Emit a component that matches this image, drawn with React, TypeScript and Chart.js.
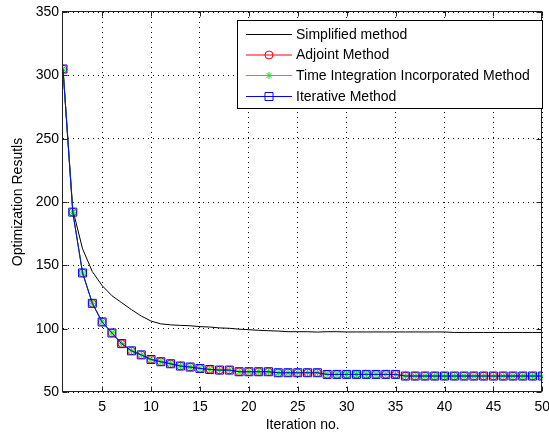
import React, { useEffect, useRef } from 'react';
import { Chart, registerables } from 'chart.js';

Chart.register(...registerables);

const iterations = [1, 2, 3, 4, 5, 6, 7, 8, 9, 10, 11, 12, 13, 14, 15, 16, 17, 18, 19, 20, 21, 22, 23, 24, 25, 26, 27, 28, 29, 30, 31, 32, 33, 34, 35, 36, 37, 38, 39, 40, 41, 42, 43, 44, 45, 46, 47, 48, 49, 50];

const simplified = [305, 194, 163, 145, 134, 126, 120.5, 115, 110, 106,
  103.8, 103, 102.6, 102.3, 101.6, 101.3, 100.6, 100.3, 99.6, 99.2,
  98.7, 98.4, 98.1, 97.6, 97.6, 97.6, 97.3, 97.6, 97.6, 97.4,
  97.4, 97.4, 97.4, 97.4, 97.4, 97.4, 97.4, 97.4, 97.4, 97.4,
  97, 97, 97, 97, 97, 97, 97, 97, 97, 97];

const adjoint = [305, 192, 144, 120, 105.3, 96.6, 88.2, 82.5, 79.3, 75.7,
  73.9, 72.3, 70.5, 69.7, 68.6, 67.8, 67.3, 67.3, 66, 66,
  66, 66, 65.2, 65.2, 65.2, 65.2, 65.2, 63.9, 63.9, 63.9,
  63.9, 63.9, 63.9, 63.9, 63.9, 62.6, 62.6, 62.6, 62.6, 62.6,
  62.6, 62.6, 62.6, 62.6, 62.6, 62.6, 62.6, 62.6, 62.6, 62.6];

const timeIntegration = [305, 192, 144, 120, 105.3, 96.6, 88.2, 82.5, 79.3, 75.7,
  73.9, 72.3, 70.5, 69.7, 68.6, 67.8, 67.3, 67.3, 66, 66,
  66, 66, 65.2, 65.2, 65.2, 65.2, 65.2, 63.9, 63.9, 63.9,
  63.9, 63.9, 63.9, 63.9, 63.9, 62.6, 62.6, 62.6, 62.6, 62.6,
  62.6, 62.6, 62.6, 62.6, 62.6, 62.6, 62.6, 62.6, 62.6, 62.6];

const iterative = [305, 192, 144, 120, 105.3, 96.6, 88.2, 82.5, 79.3, 75.7,
  73.9, 72.3, 70.5, 69.7, 68.6, 67.8, 67.3, 67.3, 66, 66,
  66, 66, 65.2, 65.2, 65.2, 65.2, 65.2, 63.9, 63.9, 63.9,
  63.9, 63.9, 63.9, 63.9, 63.9, 62.6, 62.6, 62.6, 62.6, 62.6,
  62.6, 62.6, 62.6, 62.6, 62.6, 62.6, 62.6, 62.6, 62.6, 62.6];

const xTicks = [5, 10, 15, 20, 25, 30, 35, 40, 45, 50];
const yTicks = [50, 100, 150, 200, 250, 300, 350];

const seriesNames = ['Simplified method', 'Adjoint Method', 'Time Integration Incorporated Method', 'Iterative Method'];
const seriesColors = ['#000000', '#ff0000', '#00ee00', '#0000ff'];

const FONT = '"Liberation Sans", Arial, Helvetica, sans-serif';

const toPoints = (vals: number[]) => vals.map((v, i) => ({ x: iterations[i], y: v }));

const drawMarker = (ctx: CanvasRenderingContext2D, kind: string, x: number, y: number, color: string) => {
  ctx.save();
  ctx.strokeStyle = color;
  ctx.lineWidth = 1;
  ctx.beginPath();
  if (kind === 'circle') {
    ctx.arc(x, y, 4, 0, Math.PI * 2);
  } else if (kind === 'star') {
    const r = 3.5;
    ctx.moveTo(x - r, y); ctx.lineTo(x + r, y);
    ctx.moveTo(x, y - r); ctx.lineTo(x, y + r);
    const d = r * 0.707;
    ctx.moveTo(x - d, y - d); ctx.lineTo(x + d, y + d);
    ctx.moveTo(x - d, y + d); ctx.lineTo(x + d, y - d);
  } else if (kind === 'rect') {
    ctx.rect(x - 4, y - 4, 8, 8);
  }
  ctx.stroke();
  ctx.restore();
};

const framePlugin = {
  id: 'matlabFrame',
  afterDraw(chart: any) {
    const { ctx, chartArea } = chart;
    const { left, right, top, bottom } = chartArea;
    const xs = chart.scales.x;
    const ys = chart.scales.y;
    ctx.save();
    ctx.strokeStyle = '#222';
    ctx.lineWidth = 1;
    const L = Math.round(left) - 0.5;
    const R = Math.round(right) - 0.5;
    const T = Math.round(top) - 0.5;
    const B = Math.round(bottom) - 0.5;
    ctx.strokeRect(L, T, R - L, B - T);
    ctx.beginPath();
    xTicks.forEach((v) => {
      const px = Math.round(xs.getPixelForValue(v)) + 0.5;
      ctx.moveTo(px, B); ctx.lineTo(px, B - 5);
      ctx.moveTo(px, T); ctx.lineTo(px, T + 5);
    });
    yTicks.forEach((v) => {
      const py = Math.round(ys.getPixelForValue(v)) + 0.5;
      ctx.moveTo(L, py); ctx.lineTo(L + 5, py);
      ctx.moveTo(R, py); ctx.lineTo(R - 5, py);
    });
    ctx.stroke();

    // legend box
    const bx = 237.5, by = 20.5, bw = 305, bh = 88;
    ctx.fillStyle = '#ffffff';
    ctx.fillRect(bx, by, bw, bh);
    ctx.strokeStyle = '#000';
    ctx.strokeRect(bx, by, bw, bh);
    const rowY = [34, 54.5, 75, 96];
    const markers = ['none', 'circle', 'star', 'rect'];
    ctx.font = `14px ${FONT}`;
    ctx.textBaseline = 'middle';
    ctx.textAlign = 'left';
    seriesNames.forEach((name, i) => {
      const y = rowY[i] + 0.5;
      ctx.strokeStyle = seriesColors[i];
      ctx.lineWidth = 1;
      ctx.beginPath();
      ctx.moveTo(246, y); ctx.lineTo(292, y);
      ctx.stroke();
      if (markers[i] !== 'none') drawMarker(ctx, markers[i], 269, y, seriesColors[i]);
      ctx.fillStyle = '#000';
      ctx.fillText(name, 296, rowY[i] + 1);
    });
    ctx.restore();
  },
};

export default function App() {
  const ref = useRef<HTMLCanvasElement | null>(null);
  useEffect(() => {
    if (!ref.current) return;
    const tickFont = { family: FONT, size: 14 };
    const chart = new Chart(ref.current, {
      type: 'line',
      data: {
        datasets: [
          {
            label: seriesNames[0], data: toPoints(simplified), borderColor: seriesColors[0],
            borderWidth: 1, pointRadius: 0, fill: false, order: 3,
          },
          {
            label: seriesNames[1], data: toPoints(adjoint), borderColor: seriesColors[1],
            borderWidth: 1, pointStyle: 'circle', pointRadius: 3.8, pointBorderColor: seriesColors[1],
            pointBackgroundColor: 'rgba(0,0,0,0)', pointBorderWidth: 1, fill: false, order: 2,
          },
          {
            label: seriesNames[2], data: toPoints(timeIntegration), borderColor: seriesColors[2],
            borderWidth: 1, pointStyle: 'star', pointRadius: 3.5, pointBorderColor: seriesColors[2],
            pointBackgroundColor: 'rgba(0,0,0,0)', pointBorderWidth: 1, fill: false, order: 1,
          },
          {
            label: seriesNames[3], data: toPoints(iterative), borderColor: seriesColors[3],
            borderWidth: 1, pointStyle: 'rect', pointRadius: 5.66, pointBorderColor: seriesColors[3],
            pointBackgroundColor: 'rgba(0,0,0,0)', pointBorderWidth: 1, fill: false, order: 0,
          },
        ],
      },
      options: {
        animation: false,
        responsive: false,
        layout: { padding: { top: 12, right: 4, left: 0, bottom: 0 } },
        plugins: { legend: { display: false }, tooltip: { enabled: false } },
        elements: { line: { tension: 0 } },
        scales: {
          x: {
            type: 'linear', min: 1, max: 50,
            afterBuildTicks: (s: any) => { s.ticks = xTicks.map((v) => ({ value: v })); },
            afterFit: (s: any) => { s.height = 44; s.paddingLeft = 0; s.paddingRight = 0; },
            grid: { color: '#000', drawTicks: false, lineWidth: 1 },
            border: { display: false, dash: [1, 4] },
            ticks: { padding: 7, color: '#000', font: tickFont, maxRotation: 0, autoSkip: false },
            title: { display: true, text: 'Iteration no.', color: '#000', font: tickFont, padding: { top: 0, bottom: 2 } },
          },
          y: {
            type: 'linear', min: 50, max: 350,
            afterBuildTicks: (s: any) => { s.ticks = yTicks.map((v) => ({ value: v })); },
            afterFit: (s: any) => { s.width = 63; s.paddingTop = 0; s.paddingBottom = 0; },
            grid: { color: '#000', drawTicks: false, lineWidth: 1 },
            border: { display: false, dash: [1, 4] },
            ticks: { padding: 4, color: '#000', font: tickFont, autoSkip: false },
            title: { display: true, text: 'Optimization Resutls', color: '#000', font: tickFont, padding: { top: 10, bottom: 0 } },
          },
        },
      },
      plugins: [framePlugin],
    } as any);
    return () => chart.destroy();
  }, []);
  return (
    <div style={{ position: 'absolute', left: 0, top: 0, width: 549, height: 436, background: '#fff' }}>
      <canvas ref={ref} width={549} height={436} style={{ display: 'block' }} />
    </div>
  );
}
